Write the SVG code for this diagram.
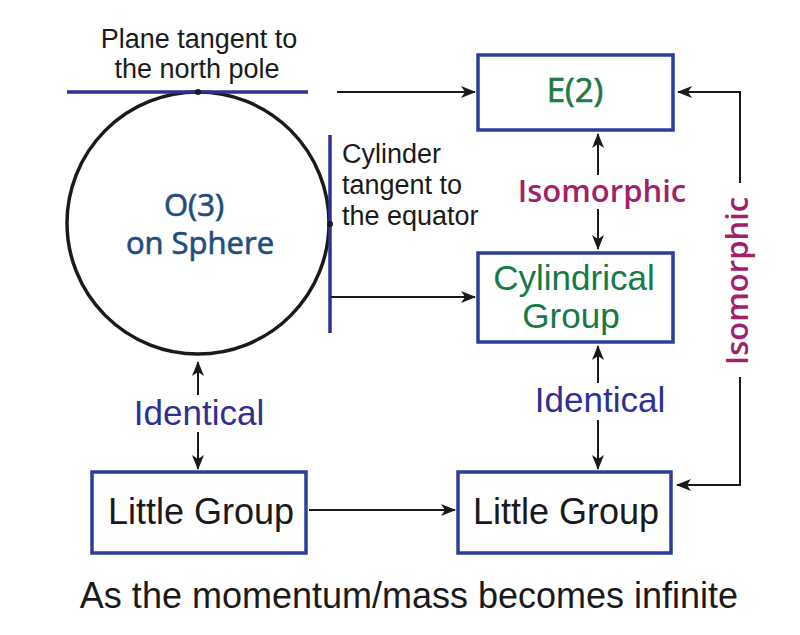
<svg xmlns="http://www.w3.org/2000/svg" width="800" height="635" viewBox="0 0 800 635">
<style>
.box{fill:#fff;stroke:#2b3f9a;stroke-width:3.5}
.tan{stroke:#2e3192;stroke-width:3.5;fill:none}
.con{stroke:#1a1a1a;stroke-width:2;fill:none}
.sm{font-family:"Liberation Sans",Arial,sans-serif;font-size:27px;fill:#1a1a1a}
.lg{font-family:"Liberation Sans",Arial,sans-serif;font-size:36px;fill:#1a1a1a;text-anchor:middle}
.myr{font-family:"Open Sans","Noto Sans",sans-serif;text-anchor:middle;font-weight:400;stroke-width:0.7}
.ident{font-family:"Liberation Sans",Arial,sans-serif;font-size:35px;fill:#2e3192;text-anchor:middle}
.iso{font-family:"Open Sans","Noto Sans",sans-serif;font-weight:600;font-size:31px;fill:#a21f6a;text-anchor:middle}
</style>
<defs>
<marker id="ah" markerWidth="16" markerHeight="12" refX="14" refY="6" orient="auto" markerUnits="userSpaceOnUse">
<path d="M0,0 L15,6 L0,12 L4,6 Z" fill="#1a1a1a"/>
</marker>
</defs>
<rect width="800" height="635" fill="#fff"/>

<g id="sphere">
<circle cx="198" cy="223" r="131" fill="none" stroke="#1a1a1a" stroke-width="3.5"/>
<text class="myr" x="194" y="216" font-size="31" fill="#1f4e7e" stroke="#1f4e7e">O(3)</text>
<text class="myr" x="200" y="254" font-size="31" fill="#1f4e7e" stroke="#1f4e7e">on Sphere</text>
</g>

<g id="plane">
<line class="tan" x1="67" y1="92" x2="308" y2="92"/>
<circle cx="198" cy="92" r="3" fill="#1a1a1a"/>
<text class="sm" x="199" y="48" text-anchor="middle">Plane tangent to</text>
<text class="sm" x="197" y="78" text-anchor="middle">the north pole</text>
</g>

<g id="cylinder">
<line class="tan" x1="330" y1="135" x2="330" y2="333"/>
<circle cx="330" cy="224" r="3" fill="#1a1a1a"/>
<text class="sm" x="342" y="163">Cylinder</text>
<text class="sm" x="342" y="194">tangent to</text>
<text class="sm" x="342" y="225">the equator</text>
</g>

<g id="e2">
<rect class="box" x="478" y="55" width="195" height="75"/>
<text class="myr" x="575" y="102" font-size="33" fill="#1b7a46" stroke="#1b7a46" stroke-width="0.5">E(2)</text>
</g>

<g id="cylgroup">
<rect class="box" x="478" y="253" width="195" height="89"/>
<text class="lg" x="574" y="290" style="fill:#157a45;font-size:35px">Cylindrical</text>
<text class="lg" x="571" y="328" style="fill:#157a45;font-size:35px">Group</text>
</g>

<g id="little-left">
<rect class="box" x="92" y="472" width="214" height="81"/>
<text class="lg" x="201" y="524">Little Group</text>
</g>

<g id="little-right">
<rect class="box" x="458" y="472" width="213" height="81"/>
<text class="lg" x="566" y="524">Little Group</text>
</g>

<g id="connectors">
<line class="con" x1="337" y1="92" x2="475" y2="92" marker-end="url(#ah)"/>
<line class="con" x1="331" y1="297" x2="475" y2="297" marker-end="url(#ah)"/>
<line class="con" x1="309" y1="510" x2="455" y2="510" marker-end="url(#ah)"/>
<line class="con" x1="598" y1="175" x2="598" y2="134" marker-end="url(#ah)"/>
<line class="con" x1="598" y1="209" x2="598" y2="249" marker-end="url(#ah)"/>
<line class="con" x1="598" y1="383" x2="598" y2="346" marker-end="url(#ah)"/>
<line class="con" x1="598" y1="420" x2="598" y2="469" marker-end="url(#ah)"/>
<line class="con" x1="198" y1="395" x2="198" y2="362" marker-end="url(#ah)"/>
<line class="con" x1="198" y1="432" x2="198" y2="469" marker-end="url(#ah)"/>
<polyline class="con" points="740,183 740,92 678,92" marker-end="url(#ah)"/>
<polyline class="con" points="740,377 740,485 677,485" marker-end="url(#ah)"/>
<text class="iso" x="602" y="202">Isomorphic</text>
<text class="iso" transform="translate(748,281) rotate(-90)">Isomorphic</text>
<text class="ident" x="600" y="412">Identical</text>
<text class="ident" x="199" y="425">Identical</text>
</g>

<text class="lg" x="409" y="608">As the momentum/mass becomes infinite</text>
</svg>
